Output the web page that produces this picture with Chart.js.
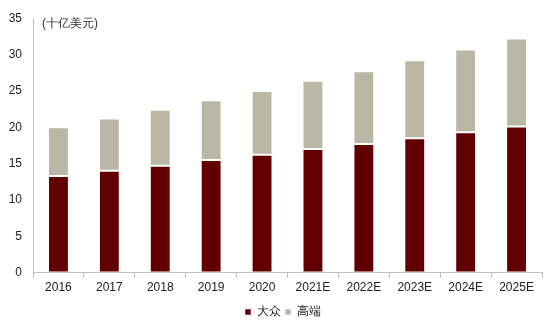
<!DOCTYPE html>
<html>
<head>
<meta charset="utf-8">
<script src="https://cdn.jsdelivr.net/npm/chart.js@4.4.7/dist/chart.umd.min.js"></script>
<style>
  html, body { margin: 0; padding: 0; background: #ffffff; }
  #wrap { width: 550px; height: 326px; position: relative; }
</style>
</head>
<body>
<div id="wrap"><canvas id="chart"></canvas></div>
<script>
const categories = ["2016", "2017", "2018", "2019", "2020", "2021E", "2022E", "2023E", "2024E", "2025E"];
const massValues = [13.3, 14.0, 14.7, 15.5, 16.2, 17.0, 17.7, 18.5, 19.3, 20.1];
const premiumValues = [6.7, 7.2, 7.7, 8.2, 8.8, 9.4, 10.0, 10.7, 11.4, 12.1];
const seriesNames = ["大众", "高端"];
const unitLabel = "(十亿美元)";

const fontFamily = "'Liberation Sans', Arial, sans-serif";

// unit text sits inside the plot, top left, like the original
const unitLabelPlugin = {
  id: "unitLabel",
  afterDraw(chart) {
    const context = chart.ctx;
    context.save();
    context.fillStyle = "#333333";
    context.font = "12px " + fontFamily;
    context.textBaseline = "middle";
    context.fillText(unitLabel, chart.chartArea.left + 9, chart.chartArea.top + 5);
    context.restore();
  },
};

// legend in the original is a bit right of centre and a touch lower
const legendShift = {
  id: "legendShift",
  afterLayout(chart) {
    chart.legend.left += 12;
    chart.legend.right += 12;
    chart.legend.top += 2;
    chart.legend.bottom += 2;
  },
};

new Chart(document.querySelector("#chart"), {
  type: "bar",
  data: {
    labels: categories,
    datasets: [
      {
        label: seriesNames[0],
        data: massValues,
        backgroundColor: "#620000",
        borderColor: "rgba(255,255,255,0.5)",
        borderWidth: 1,
        borderSkipped: false,
        barPercentage: 0.41,
        categoryPercentage: 1,
      },
      {
        label: seriesNames[1],
        data: premiumValues,
        backgroundColor: "#b9b8a5",
        borderColor: "rgba(255,255,255,0.5)",
        borderWidth: 1,
        borderSkipped: false,
        barPercentage: 0.41,
        categoryPercentage: 1,
      },
    ],
  },
  options: {
    responsive: true,
    maintainAspectRatio: false,
    animation: false,
    layout: {
      padding: { top: 15.5, right: 8, left: 0, bottom: 0 },
    },
    plugins: {
      legend: {
        position: "bottom",
        labels: {
          boxWidth: 6,
          boxHeight: 6,
          padding: 4,
          color: "#222222",
          font: { family: fontFamily, size: 12 },
        },
      },
      tooltip: { enabled: false },
    },
    scales: {
      x: {
        stacked: true,
        afterFit(scale) {
          scale.height += 3;
        },
        grid: {
          offset: true,
          drawOnChartArea: false,
          tickLength: 5,
          color: "#bfbfbf",
        },
        border: { color: "#bfbfbf" },
        ticks: {
          color: "#222222",
          padding: 2.5,
          maxRotation: 0,
          font: { family: fontFamily, size: 12 },
        },
      },
      y: {
        stacked: true,
        min: 0,
        max: 35,
        afterFit(scale) {
          scale.width = 33;
        },
        grid: { display: false, drawTicks: false },
        border: { color: "#bfbfbf" },
        ticks: {
          stepSize: 5,
          color: "#222222",
          padding: 11,
          font: { family: fontFamily, size: 12 },
        },
      },
    },
  },
  plugins: [unitLabelPlugin, legendShift],
});
</script>
</body>
</html>
